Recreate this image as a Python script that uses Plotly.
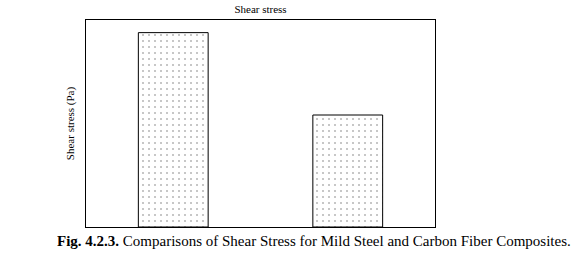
import plotly.graph_objects as go

categories = ["Mild Steel", "Carbon Fiber Composites"]
values = [93.9, 54.1]
title_text = "Shear stress"
y_label = "Shear stress (Pa)"
caption = "<b>Fig. 4.2.3.</b> Comparisons of Shear Stress for Mild Steel and Carbon Fiber Composites."

SERIF = "Times New Roman, Liberation Serif, DejaVu Serif, serif"

fig = go.Figure()
fig.add_trace(go.Bar(
    x=categories, y=values, width=0.4,
    marker=dict(color="white", line=dict(color="black", width=1),
                pattern=dict(shape=".", fgcolor="black", bgcolor="white", size=6, solidity=0.06)),
))
fig.update_layout(
    width=583, height=253,
    margin=dict(l=86, r=148, t=20, b=26),
    paper_bgcolor="white", plot_bgcolor="white",
    showlegend=False,
    font=dict(family=SERIF, color="black"),
    title=dict(text=title_text, x=(86 + 435) / 2 / 583, xanchor="center", y=1 - 9 / 253, yanchor="middle",
               font=dict(size=11, family=SERIF)),
    xaxis=dict(showticklabels=False, showline=True, linecolor="black", linewidth=1, mirror=True,
               ticks="", range=[-0.5, 1.5], showgrid=False),
    yaxis=dict(showticklabels=False, showline=True, linecolor="black", linewidth=1, mirror=True,
               ticks="", range=[0, 100], showgrid=False, zeroline=False,
               title=dict(text=y_label, font=dict(size=11, family=SERIF), standoff=8)),
)
fig.add_annotation(text=caption, xref="paper", yref="paper", x=(314 - 86) / 349, y=-(241 - 227) / 207,
                   xanchor="center", yanchor="middle", showarrow=False,
                   font=dict(size=15, family=SERIF, color="black"))
fig.write_html("out.html")
